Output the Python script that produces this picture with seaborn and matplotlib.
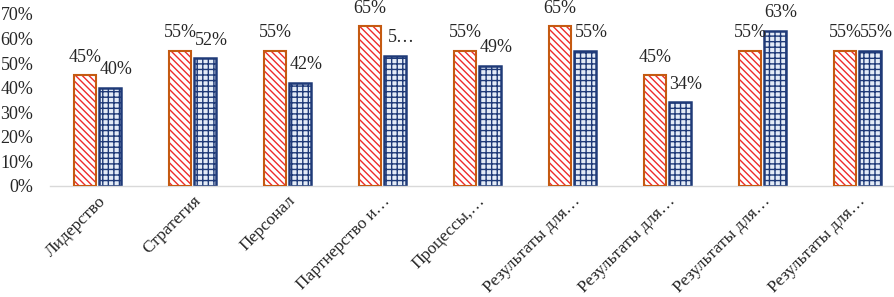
import pandas as pd
import matplotlib.pyplot as plt
import matplotlib.transforms as mtransforms
import seaborn as sns
from matplotlib.patches import Rectangle

# categories and the two series (share of respondents)
categories = ['Лидерство', 'Стратегия', 'Персонал', 'Партнерство и…', 'Процессы,…',
              'Результаты для…', 'Результаты для…', 'Результаты для…', 'Результаты для…']
series_a = [0.45, 0.55, 0.55, 0.65, 0.55, 0.65, 0.45, 0.55, 0.55]
series_b = [0.40, 0.52, 0.42, 0.53, 0.49, 0.55, 0.34, 0.63, 0.55]
labels_a = ['45%', '55%', '55%', '65%', '55%', '65%', '45%', '55%', '55%']
labels_b = ['40%', '52%', '42%', '5…', '49%', '55%', '34%', '63%', '55%']
yticks = [0, 0.1, 0.2, 0.3, 0.4, 0.5, 0.6, 0.7]

sns.set_style('white')
plt.rcParams['font.family'] = ['Liberation Serif', 'DejaVu Serif']
plt.rcParams['hatch.linewidth'] = 1.0

# unique positions so repeated names stay separate categories
pos = [str(i) for i in range(len(categories))]
df = pd.DataFrame({
    'pos': pos * 2,
    'value': series_a + series_b,
    'series': ['a'] * len(pos) + ['b'] * len(pos),
})

fig = plt.figure(figsize=(8.95, 2.97), dpi=100)
# plot area runs slightly past the right edge, like the reference crop
ax = fig.add_axes([50 / 895, 1 - 186 / 297, 855 / 895, 172 / 297])

sns.barplot(data=df, x='pos', y='value', hue='series', order=pos,
            palette=['white', '#E4ECF7'], width=0.52, gap=0.1,
            legend=False, ax=ax, saturation=1)

n = len(pos)
bars = [p for p in ax.patches if isinstance(p, Rectangle)][:2 * n]
for i, bar in enumerate(bars):
    if i < n:
        bar.set_hatch('\\\\\\\\\\')
        bar.set_edgecolor('#EE2B2B')
        bar.set_linewidth(0)
        # outline on top in orange-brown
        ax.add_patch(Rectangle((bar.get_x(), 0), bar.get_width(), bar.get_height(),
                               fill=False, edgecolor='#C55A11', linewidth=1.5, zorder=3))
        ax.annotate(labels_a[i], (bar.get_x() + bar.get_width() / 2, bar.get_height()),
                    xytext=(0, 7), textcoords='offset points', ha='center', va='bottom',
                    fontsize=13, color='#262626')
    else:
        j = i - n
        bar.set_hatch('+++')
        bar.set_edgecolor('#1F3A78')
        bar.set_linewidth(1.8)
        ax.annotate(labels_b[j], (bar.get_x() + bar.get_width() / 2, bar.get_height()),
                    xytext=(4.5, 7), textcoords='offset points', ha='center', va='bottom',
                    fontsize=13, color='#262626')

ax.set_ylim(0, 0.7)
ax.set_xlim(-0.5, n - 0.5)
ax.set_yticks(yticks)
ax.set_yticklabels([f'{int(round(t * 100))}%' for t in yticks], fontsize=13, color='#262626')
ax.set_xticks(range(n))
ax.set_xticklabels(categories, rotation=45, ha='right', rotation_mode='anchor',
                   fontsize=12.5, color='#262626')
shift = mtransforms.ScaledTranslation(6 / 100, 0, fig.dpi_scale_trans)
for lab in ax.get_xticklabels():
    lab.set_transform(lab.get_transform() + shift)
ax.tick_params(axis='y', length=0, pad=12)
ax.tick_params(axis='x', length=0, pad=5)
ax.set_xlabel('')
ax.set_ylabel('')
for side in ['top', 'right', 'left']:
    ax.spines[side].set_visible(False)
ax.spines['bottom'].set_color('#D9D9D9')
ax.spines['bottom'].set_linewidth(1)

plt.savefig('out.png', dpi=100)
